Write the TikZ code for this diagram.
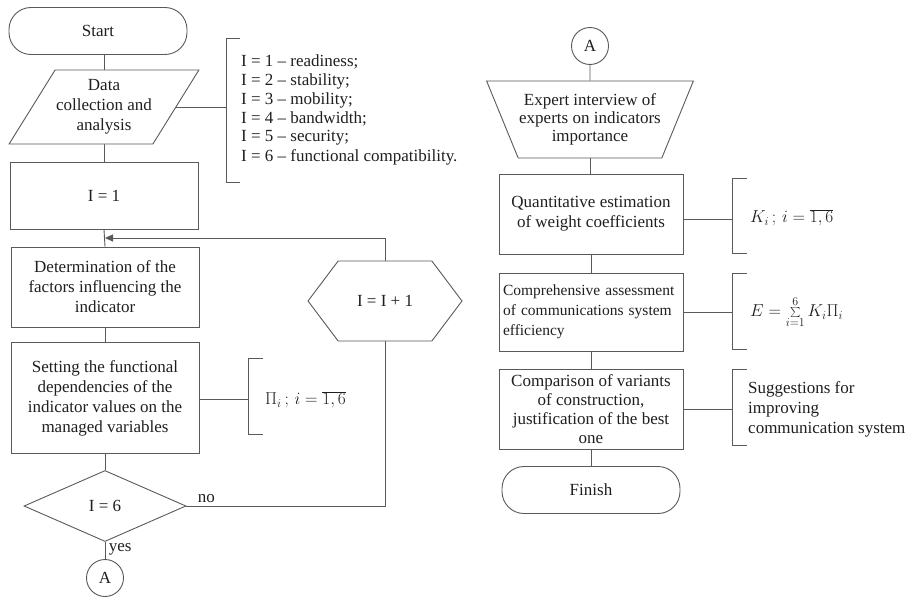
\documentclass[tikz,border=0pt]{standalone}
\usepackage{fontspec}
\setmainfont{Liberation Serif}
\usetikzlibrary{shapes.geometric, shapes.misc, shapes.symbols, arrows.meta, positioning, calc}
\definecolor{linegray}{gray}{0.35}
\definecolor{textgray}{gray}{0.12}

\begin{document}
\begin{tikzpicture}[
  x=1pt, y=-1pt,
  font=\fontsize{17}{20}\selectfont,
  every node/.style={text=textgray},
  term/.style={rectangle, rounded corners=22pt, draw=linegray, line width=0.9pt, minimum width=178pt, minimum height=47pt},
  proc/.style={rectangle, draw=linegray, line width=0.9pt, align=center, inner sep=2pt, minimum width=188pt},
  io/.style={trapezium, trapezium left angle=51, trapezium right angle=129, trapezium stretches, draw=linegray, line width=0.9pt, align=center, inner sep=1pt, minimum width=188pt, minimum height=74pt},
  manual/.style={trapezium, trapezium left angle=120.5, trapezium right angle=120.5, trapezium stretches, draw=linegray, line width=0.9pt, align=center, inner sep=1pt, minimum width=204pt, minimum height=77pt, font=\fontsize{17}{18}\selectfont},
  decision/.style={diamond, draw=linegray, line width=0.9pt, inner sep=0pt, minimum width=162pt, minimum height=71pt},
  prep/.style={signal, signal to=west and east, signal pointer angle=106, draw=linegray, line width=0.9pt, minimum width=154pt, minimum height=80pt},
  conn/.style={circle, draw=linegray, line width=0.9pt, minimum size=37pt, inner sep=0pt},
  line/.style={draw=linegray, line width=0.9pt},
  brk/.style={draw=linegray, line width=0.9pt},
  arrow/.style={line, -{Triangle[length=8pt, width=7pt]}}
]
  \useasboundingbox (0,0) rectangle (905,597);

  % Left column
  \node[term] (start) at (98,31) {Start};
  \node[io] (data) at (104,107) {Data\\collection and\\analysis};
  \node[proc, minimum height=67pt] (i1) at (104,195.5) {I = 1};
  \node[proc, minimum height=80pt] (det) at (105,287) {Determination of the\\factors influencing the\\indicator};
  \node[proc, minimum height=111pt] (set) at (105,398) {Setting the functional\\dependencies of the\\indicator values on the\\managed variables};
  \node[decision] (dec) at (105,506) {I = 6};
  \node[conn] (al) at (105,578) {A};
  \node[prep] (inc) at (385,301) {I = I + 1};
  \coordinate (join) at (105,238);

  % Indicator list
  \coordinate (b1) at (226,110);
  \draw[brk] (240,38) -- (226,38) -- (226,182) -- (240,182);
  \foreach \i/\t in {1/readiness;, 2/stability;, 3/mobility;, 4/bandwidth;, 5/security;, 6/functional compatibility.} {
    \node[anchor=west, inner sep=0pt] (l\i) at (241,62+19*\i-19) {I = \i\ -- \t};
  }

  % Functional dependencies
  \coordinate (b2) at (248,399);
  \draw[brk] (263,358) -- (248,358) -- (248,434) -- (263,434);
  \node[anchor=west, inner sep=0pt] (pitx) at (265,400) {$\Pi_i\,;\, i=\overline{1,6}$};

  % Right column
  \node[conn] (ar) at (590,46) {A};
  \node[manual] (exp) at (590,119.5) {Expert interview of\\experts on indicators\\importance};
  \node[proc, minimum width=184pt, minimum height=80pt] (quant) at (591,214) {Quantitative estimation\\of weight coefficients};
  \node[proc, minimum width=184pt, minimum height=78pt, align=left, font=\fontsize{15.5}{20}\selectfont, text width=176pt] (comp) at (591,312) {Comprehensive assessment\\of communications system\\efficiency};
  \node[proc, minimum width=184pt, minimum height=80pt, font=\fontsize{17}{19}\selectfont] (cmp) at (591,409) {Comparison of variants\\of construction,\\justification of the best\\one};
  \node[term] (fin) at (591,490) {Finish};

  % Right brackets
  \coordinate (b3) at (732,219);
  \coordinate (b4) at (732,312);
  \coordinate (b5) at (732,409);
  \foreach \ya/\yb in {178/253, 273/349, 369/445} {
    \draw[brk] (747,\ya) -- (732,\ya) -- (732,\yb) -- (747,\yb);
  }
  \node[anchor=west, inner sep=0pt] (ktx) at (750,218) {$K_i\,;\, i=\overline{1,6}$};
  \node[anchor=west, inner sep=0pt] (etx) at (750,312) {$E=\sum\limits_{i=1}^{6}K_i\Pi_i$};
  \node[anchor=west, inner sep=0pt, align=left] (sugg) at (748,409) {Suggestions for\\improving\\communication system};

  % Connections left
  \draw[line] (start.south -| data.north) -- (data.north);
  \draw[line] (data.south) -- (i1.south |- data.south) -- (i1.north);
  \draw[line] (i1.south) -- (det.north);
  \draw[line] (det.south) -- (set.north);
  \draw[line] (set.south) -- (dec.north);
  \draw[line] (dec.south) -- node[right, pos=0.45] (yes) {yes} (al.north);
  \draw[line] (dec.east) -| node[pos=0.05, above] (no) {no} (inc.south);
  \draw[arrow] (inc.north) |- (join);
  \draw[line] (data.east) -- (data.east -| b1);
  \draw[line] (set.east |- b2) -- (b2);

  % Connections right
  \draw[line] (ar.south) -- (exp.north);
  \draw[line] (exp.south) -- (quant.north -| exp.south);
  \draw[line] (quant.south) -- (comp.north);
  \draw[line] (comp.south) -- (cmp.north);
  \draw[line] (cmp.south) -- (fin.north);
  \draw[line] (quant.east |- b3) -- (b3);
  \draw[line] (comp.east |- b4) -- (b4);
  \draw[line] (cmp.east |- b5) -- (b5);
\end{tikzpicture}
\end{document}
